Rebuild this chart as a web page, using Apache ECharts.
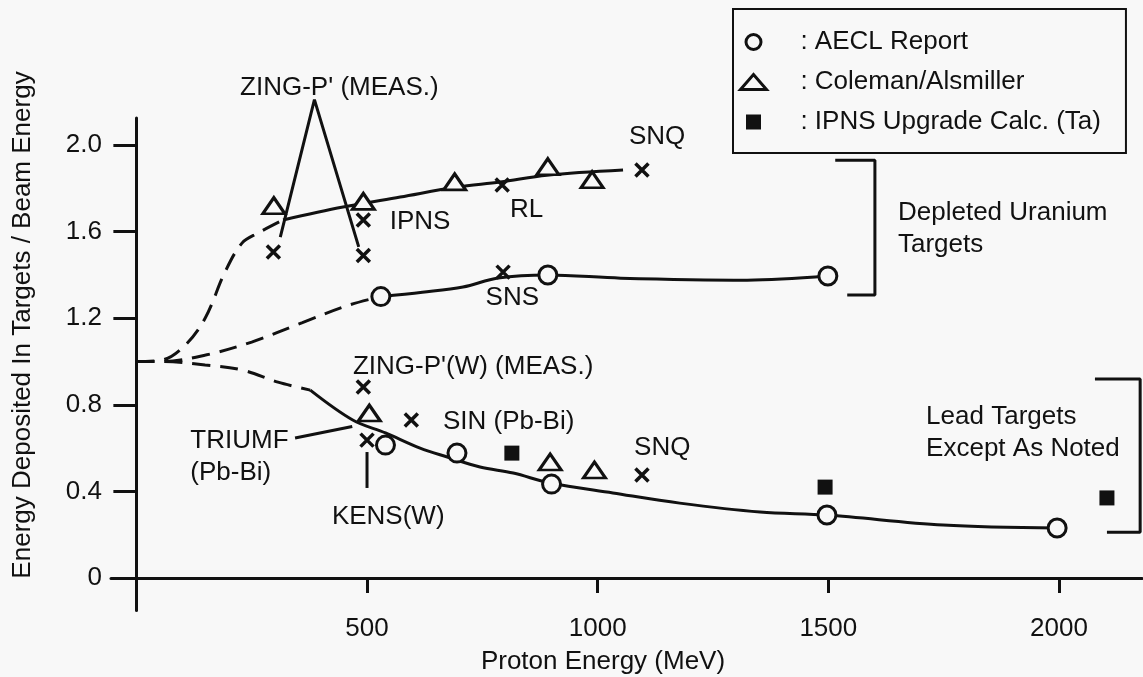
<!DOCTYPE html>
<html>
<head>
<meta charset="utf-8">
<script src="https://cdn.jsdelivr.net/npm/echarts@6/dist/echarts.min.js"></script>
<style>
html,body{margin:0;padding:0;background:#f8f8f8;}
#chart{width:1143px;height:677px;}
</style>
</head>
<body>
<div id="chart"></div>
<script>
// ---------- data ----------
var yTicks = [0, 0.4, 0.8, 1.2, 1.6, 2.0];
var xTicks = [500, 1000, 1500, 2000];

// AECL Report (circles)
var aeclPoints = [[530, 1.30], [892, 1.40], [1499, 1.395],
                  [540, 0.614], [695, 0.577], [900, 0.434], [1497, 0.291], [1996, 0.231]];
// Coleman/Alsmiller (triangles)
var colemanPoints = [[298, 1.72], [492, 1.74], [690, 1.83], [892, 1.90], [988, 1.84],
                     [505, 0.762], [897, 0.536], [993, 0.499]];
// IPNS Upgrade Calc. (Ta) (filled squares)
var ipnsPoints = [[814, 0.577], [1493, 0.42], [2104, 0.37]];
// other facilities (x marks)
var facilityPoints = [[297, 1.506], [492, 1.654], [492, 1.49], [793, 1.815], [1096, 1.885], [795, 1.413],
                      [492, 0.882], [500, 0.637], [596, 0.73], [1096, 0.476]];

// Depleted uranium curves
var uraniumUpperDashed = [[0, 1.0], [56, 1.007], [106, 1.076], [149, 1.20], [192, 1.413], [229, 1.547], [264, 1.594], [318, 1.654]];
var uraniumUpperSolid = [[318, 1.654], [448, 1.714], [572, 1.76], [695, 1.806], [789, 1.829], [890, 1.861], [1055, 1.885]];
var uraniumAeclDashed = [[0, 1.0], [56, 1.0], [150, 1.03], [250, 1.09], [360, 1.18], [460, 1.26], [530, 1.30]];
var uraniumAeclSolid = [[530, 1.30], [620, 1.32], [708, 1.344], [784, 1.386], [892, 1.40], [1050, 1.385], [1324, 1.376], [1499, 1.395]];
// Lead curves
var leadDashed = [[0, 1.0], [56, 1.0], [149, 0.984], [229, 0.961], [307, 0.905], [377, 0.868]];
var leadSolid = [[377, 0.868], [469, 0.73], [540, 0.67], [615, 0.60], [674, 0.559], [745, 0.513], [817, 0.485],
                 [897, 0.439], [1033, 0.393], [1178, 0.346], [1352, 0.305], [1497, 0.291], [1749, 0.245], [1996, 0.231]];
// ZING-P' measured polyline
var zingLine = [[312, 1.575], [386, 2.21], [482, 1.53]];
// leader lines
var triumfLeader = [[344, 0.647], [468, 0.70]];
var kensLeader = [[500, 0.582], [500, 0.416]];
// brackets
var uraniumBracket = [[1515, 1.93], [1601, 1.93], [1601, 1.307], [1541, 1.307]];
var leadBracket = [[2078, 0.919], [2176, 0.919], [2176, 0.212], [2104, 0.212]];

// annotations
var centerLabels = [
  [440, 2.263, "ZING-P' (MEAS.)"],
  [1129, 2.037, 'SNQ'],
  [615, 1.644, 'IPNS'],
  [846, 1.70, 'RL'],
  [815, 1.293, 'SNS'],
  [730, 0.975, "ZING-P'(W) (MEAS.)"],
  [807, 0.72, 'SIN (Pb-Bi)'],
  [546, 0.282, 'KENS(W)'],
  [1140, 0.60, 'SNQ']
];
var leftLabels = [
  [1651, 1.612, 'Depleted Uranium\nTargets'],
  [117, 0.561, 'TRIUMF\n(Pb-Bi)'],
  [1712, 0.672, 'Lead Targets\nExcept As Noted']
];
var legendNames = ['AECL Report', 'Coleman/Alsmiller', 'IPNS Upgrade Calc. (Ta)'];
var xTitle = 'Proton Energy (MeV)';
var yTitle = 'Energy Deposited In Targets / Beam Energy';

// ---------- chart ----------
var INK = '#111';
var BG = '#f8f8f8';
var FONT = "'Liberation Sans', Arial, Helvetica, sans-serif";
var FS = 26;

function lineSeries(data, dashed, smooth) {
  return {
    type: 'line', data: data, symbol: 'none', smooth: smooth ? 0.35 : false,
    silent: true, clip: false, z: 2,
    lineStyle: { color: INK, width: 3, type: dashed ? [18, 10] : 'solid' }
  };
}

var chart = echarts.init(document.getElementById('chart'), null, { renderer: 'canvas' });
var option = {
  animation: false,
  backgroundColor: BG,
  textStyle: { fontFamily: FONT, color: INK },
  grid: { left: 111, right: 1, top: 118, bottom: 66.5 },
  xAxis: {
    type: 'value', min: -55, max: 2180,
    axisLine: { onZero: true, lineStyle: { color: INK, width: 3 } },
    axisTick: { show: true, customValues: xTicks, length: 15, lineStyle: { color: INK, width: 3 } },
    axisLabel: { customValues: xTicks, margin: 5, fontSize: FS, color: INK, fontFamily: FONT,
      formatter: function (v) { return String(v); } },
    splitLine: { show: false }
  },
  yAxis: {
    type: 'value', min: -0.15, max: 2.125,
    axisLine: { show: true, onZero: true, lineStyle: { color: INK, width: 3 } },
    axisTick: { show: true, customValues: yTicks, length: 23, lineStyle: { color: INK, width: 3 } },
    axisLabel: { customValues: yTicks, margin: 9, fontSize: FS, color: INK, fontFamily: FONT,
      formatter: function (v) { return v === 0 ? '0' : v.toFixed(1); } },
    splitLine: { show: false }
  },
  legend: {
    orient: 'vertical', left: 733, top: 9,
    padding: [20, 25, 18, 6], itemGap: 14, itemWidth: 26, itemHeight: 15,
    symbolKeepAspect: true,
    borderColor: INK, borderWidth: 2, backgroundColor: BG,
    textStyle: { fontSize: FS, color: INK, fontFamily: FONT },
    formatter: function (n) { return '    : ' + n; },
    data: [
      { name: legendNames[0], icon: 'path://M0,0A6,6,0,1,1,0,0.01Z', itemStyle: { borderWidth: 3 } },
      { name: legendNames[1], icon: 'path://M0,15L13,0L26,15Z', itemStyle: { borderWidth: 3 } },
      { name: legendNames[2], icon: 'path://M0,0L14,0L14,14L0,14Z' }
    ]
  },
  graphic: [
    { type: 'text', x: 23, y: 325, rotation: Math.PI / 2, silent: true,
      style: { text: yTitle, font: FS + 'px ' + FONT, fill: INK, align: 'center', verticalAlign: 'middle' } },
    { type: 'text', x: 603, y: 662, silent: true,
      style: { text: xTitle, font: FS + 'px ' + FONT, fill: INK, align: 'center', verticalAlign: 'middle' } }
  ],
  series: [
    lineSeries(uraniumUpperDashed, true, true),
    lineSeries(uraniumUpperSolid, false, true),
    lineSeries(uraniumAeclDashed, true, true),
    lineSeries(uraniumAeclSolid, false, true),
    lineSeries(leadDashed, true, true),
    lineSeries(leadSolid, false, true),
    lineSeries(zingLine, false, false),
    lineSeries(triumfLeader, false, false),
    lineSeries(kensLeader, false, false),
    lineSeries(uraniumBracket, false, false),
    lineSeries(leadBracket, false, false),
    {
      name: legendNames[0], type: 'scatter', data: aeclPoints, symbol: 'circle', symbolSize: 18,
      z: 4, silent: true,
      itemStyle: { color: BG, borderColor: INK, borderWidth: 3, opacity: 1 }
    },
    {
      name: legendNames[1], type: 'scatter', data: colemanPoints, symbol: 'triangle', symbolSize: [22, 16],
      z: 4, silent: true,
      itemStyle: { color: BG, borderColor: INK, borderWidth: 3, opacity: 1 }
    },
    {
      name: legendNames[2], type: 'scatter', data: ipnsPoints, symbol: 'rect', symbolSize: 15,
      z: 4, silent: true,
      itemStyle: { color: INK, opacity: 1 }
    },
    {
      name: 'facilities', type: 'scatter', data: facilityPoints, symbol: 'path://M0,0L10,10M10,0L0,10', symbolSize: 13,
      z: 4, silent: true,
      itemStyle: { color: 'none', borderColor: INK, borderWidth: 3.5, opacity: 1 }
    },
    {
      name: 'labelsC', type: 'scatter', symbolSize: 0, z: 5, silent: true, clip: false,
      itemStyle: { opacity: 1 },
      data: centerLabels.map(function (d) { return { value: [d[0], d[1]], name: d[2] }; }),
      label: { show: true, position: 'inside', formatter: '{b}', fontSize: FS, color: INK, fontFamily: FONT, opacity: 1 }
    },
    {
      name: 'labelsL', type: 'scatter', symbolSize: 0, z: 5, silent: true, clip: false,
      itemStyle: { opacity: 1 },
      data: leftLabels.map(function (d) { return { value: [d[0], d[1]], name: d[2] }; }),
      label: { show: true, position: 'right', distance: 0, align: 'left', verticalAlign: 'middle',
        formatter: '{b}', fontSize: FS, lineHeight: 32, color: INK, fontFamily: FONT, opacity: 1 }
    }
  ]
};
chart.setOption(option);
</script>
</body>
</html>
